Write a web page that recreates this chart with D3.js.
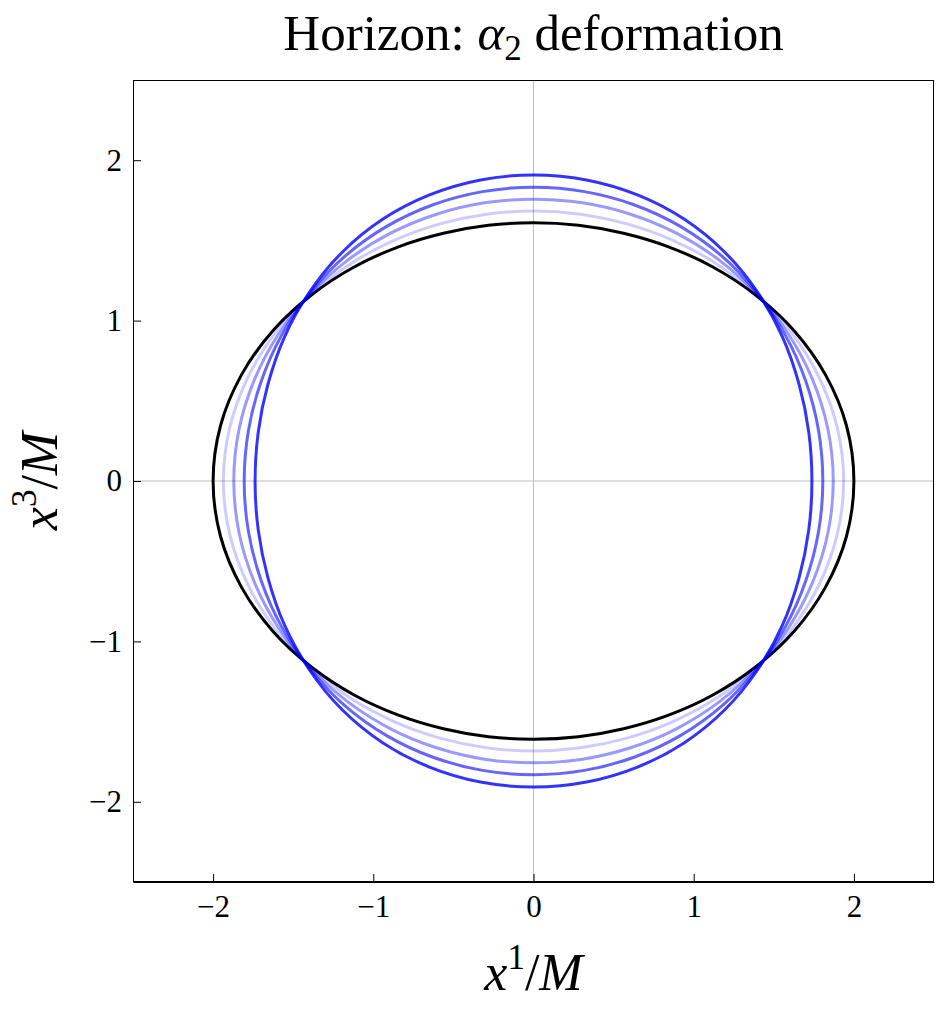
<!DOCTYPE html>
<html>
<head>
<meta charset="utf-8">
<script src="https://cdn.jsdelivr.net/npm/d3@7"></script>
<style>
  html, body { margin: 0; padding: 0; background: #fff; }
  svg { display: block; }
  text { font-family: "Liberation Serif", "DejaVu Serif", serif; fill: #000; }
</style>
</head>
<body>
<div id="chart"></div>
<script>
// ---- data ----
// polar angle from the +x3 axis (degrees), first quadrant; curves are symmetric
const angles = [0, 10, 20, 30, 40, 50, 60, 70, 80, 90];
// radius r/M of the undeformed horizon (black)
const baseRadius = [1.610, 1.619, 1.644, 1.686, 1.742, 1.807, 1.877, 1.939, 1.984, 2.000];
// radius r/M of the deformed horizons, increasing alpha_2
const deformed1 = [1.683, 1.689, 1.706, 1.734, 1.771, 1.812, 1.857, 1.896, 1.925, 1.936];
const deformed2 = [1.757, 1.761, 1.770, 1.784, 1.800, 1.817, 1.836, 1.853, 1.866, 1.871];
const deformed3 = [1.831, 1.832, 1.833, 1.833, 1.830, 1.822, 1.816, 1.810, 1.807, 1.806];
const deformed4 = [1.908, 1.906, 1.898, 1.884, 1.860, 1.828, 1.795, 1.764, 1.745, 1.738];
const xTicks = [-2, -1, 0, 1, 2];
const yTicks = [-2, -1, 0, 1, 2];
const xDomain = [-2.5, 2.5];
const yDomain = [-2.5, 2.5];

// ---- layout ----
const W = 938, H = 1017;
const plot = { left: 133, right: 934, top: 80, bottom: 882 };

const svg = d3.select("#chart").append("svg")
  .attr("width", W).attr("height", H);

const x = d3.scaleLinear().domain(xDomain).range([plot.left, plot.right]);
const y = d3.scaleLinear().domain(yDomain).range([plot.bottom, plot.top]);

svg.append("clipPath").attr("id", "clip").append("rect")
  .attr("x", plot.left).attr("y", plot.top)
  .attr("width", plot.right - plot.left).attr("height", plot.bottom - plot.top);

// zero lines
const g0 = svg.append("g").attr("clip-path", "url(#clip)");
g0.append("line")
  .attr("x1", x(0)).attr("x2", x(0)).attr("y1", plot.top).attr("y2", plot.bottom)
  .attr("stroke", "#bdbdbd").attr("stroke-width", 1);
g0.append("line")
  .attr("x1", plot.left).attr("x2", plot.right).attr("y1", y(0)).attr("y2", y(0))
  .attr("stroke", "#bdbdbd").attr("stroke-width", 1);

// build the closed curve from the first-quadrant radii using the symmetry of the horizon
function closedPoints(radii) {
  const pts = [];
  const step = angles[1] - angles[0];
  for (let t = 0; t < 360; t += step) {
    let a = t <= 180 ? t : 360 - t;
    let b = a <= 90 ? a : 180 - a;
    const r = radii[angles.indexOf(b)];
    const th = t * Math.PI / 180;
    pts.push([r * Math.sin(th), r * Math.cos(th)]);
  }
  return pts;
}

const line = d3.line()
  .x(d => x(d[0])).y(d => y(d[1]))
  .curve(d3.curveCatmullRomClosed.alpha(0.5));

const curves = g0.append("g").attr("fill", "none").attr("stroke-width", 3);

curves.append("path")
  .attr("d", line(closedPoints(baseRadius)))
  .attr("stroke", "#000");

const blues = [deformed1, deformed2, deformed3, deformed4];
const blueColors = ["rgba(0,0,255,0.2)", "rgba(0,0,255,0.4)", "rgba(0,0,255,0.6)", "rgba(0,0,255,0.8)"];
blues.forEach((radii, i) => {
  curves.append("path")
    .attr("d", line(closedPoints(radii)))
    .attr("stroke", blueColors[i]);
});

// frame
svg.append("rect")
  .attr("x", plot.left + 0.5).attr("y", plot.top + 0.5)
  .attr("width", plot.right - plot.left - 1).attr("height", plot.bottom - plot.top - 1)
  .attr("fill", "none").attr("stroke", "#000").attr("stroke-width", 1);

// axes with inward ticks
const fmt = d3.format("d");
const xAxis = d3.axisBottom(x).tickValues(xTicks).tickFormat(fmt).tickSizeInner(-8).tickSizeOuter(0).tickPadding(13);
const yAxis = d3.axisLeft(y).tickValues(yTicks).tickFormat(fmt).tickSizeInner(-8).tickSizeOuter(0).tickPadding(11);

const gx = svg.append("g").attr("transform", `translate(0,${plot.bottom})`).call(xAxis);
const gy = svg.append("g").attr("transform", `translate(${plot.left},0)`).call(yAxis);
[gx, gy].forEach(g => {
  g.select(".domain").attr("stroke", "#000");
  g.selectAll(".tick line").attr("stroke", "#000").attr("stroke-width", 1);
  g.selectAll(".tick text")
    .style("font-family", "'Liberation Serif', 'DejaVu Serif', serif")
    .style("font-size", "31px").attr("fill", "#000");
});

// title
const title = svg.append("text")
  .attr("x", (plot.left + plot.right) / 2).attr("y", 50)
  .attr("text-anchor", "middle").style("font-size", "51px");
title.append("tspan").text("Horizon: ");
title.append("tspan").style("font-style", "italic").text("α");
title.append("tspan").attr("dy", 10).style("font-size", "35px").text("2");
title.append("tspan").attr("dy", -10).text(" deformation");

// x label
const xl = svg.append("text")
  .attr("x", (plot.left + plot.right) / 2).attr("y", 990)
  .attr("text-anchor", "middle").style("font-size", "52px");
xl.append("tspan").style("font-style", "italic").text("x");
xl.append("tspan").attr("dy", -21).style("font-size", "35px").text("1");
xl.append("tspan").attr("dy", 21).text("/");
xl.append("tspan").style("font-style", "italic").text("M");

// y label
const yl = svg.append("text")
  .attr("transform", `translate(57,${(plot.top + plot.bottom) / 2}) rotate(-90)`)
  .attr("text-anchor", "middle").style("font-size", "52px");
yl.append("tspan").style("font-style", "italic").text("x");
yl.append("tspan").attr("dy", -21).style("font-size", "35px").text("3");
yl.append("tspan").attr("dy", 21).text("/");
yl.append("tspan").style("font-style", "italic").text("M");
</script>
</body>
</html>
